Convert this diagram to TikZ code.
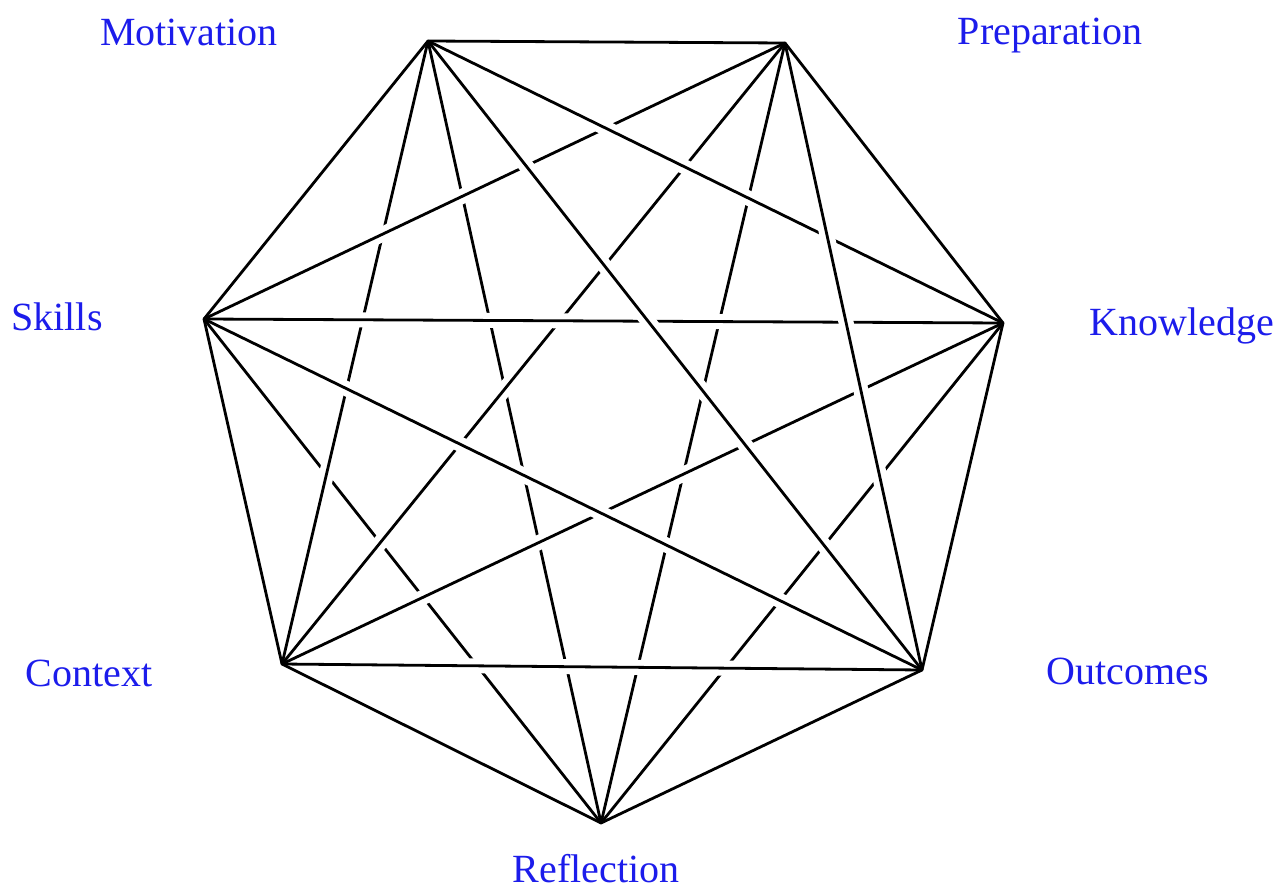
\documentclass[tikz,border=0pt]{standalone}
\usepackage{fontspec}
\setmainfont{Liberation Serif}
\definecolor{lblblue}{RGB}{28,28,235}
\begin{document}
\begin{tikzpicture}[x=0.5pt,y=-0.5pt,
  edge/.style={line width=1.4pt,
    preaction={draw=white,line width=7.5pt,shorten <=20pt,shorten >=20pt}},
  hull/.style={line width=1.4pt,line join=round},
  lbl/.style={text=lblblue,font=\fontsize{20}{24}\selectfont,anchor=base,inner sep=0pt}]
\useasboundingbox (0,0) rectangle (1279,888);
\coordinate (M) at (428,41);
\coordinate (P) at (785,43);
\coordinate (S) at (204,319);
\coordinate (K) at (1003,323);
\coordinate (C) at (282,664);
\coordinate (O) at (922,670);
\coordinate (R) at (601,823);
% labels
\node[lbl] (lM) at (189,46) {Motivation};
\node[lbl] (lP) at (1050,45) {Preparation};
\node[lbl] (lS) at (57,330) {Skills};
\node[lbl] (lK) at (1182,335) {Knowledge};
\node[lbl] (lC) at (89,686) {Context};
\node[lbl] (lO) at (1128,684) {Outcomes};
\node[lbl] (lR) at (596,882) {Reflection};
% crossing edges, bottom to top
\draw[edge] (S) -- (R);
\draw[edge] (M) -- (R);
\draw[edge] (P) -- (R);
\draw[edge] (K) -- (R);
\draw[edge] (M) -- (C);
\draw[edge] (P) -- (C);
\draw[edge] (K) -- (C);
\draw[edge] (S) -- (P);
\draw[edge] (S) -- (K);
\draw[edge] (M) -- (K);
\draw[edge] (M) -- (O);
\draw[edge] (S) -- (O);
\draw[edge] (C) -- (O);
\draw[edge] (P) -- (O);
% outer edges
\draw[hull] (M) -- (P) -- (K) -- (O) -- (R) -- (C) -- (S) -- cycle;
\end{tikzpicture}
\end{document}
